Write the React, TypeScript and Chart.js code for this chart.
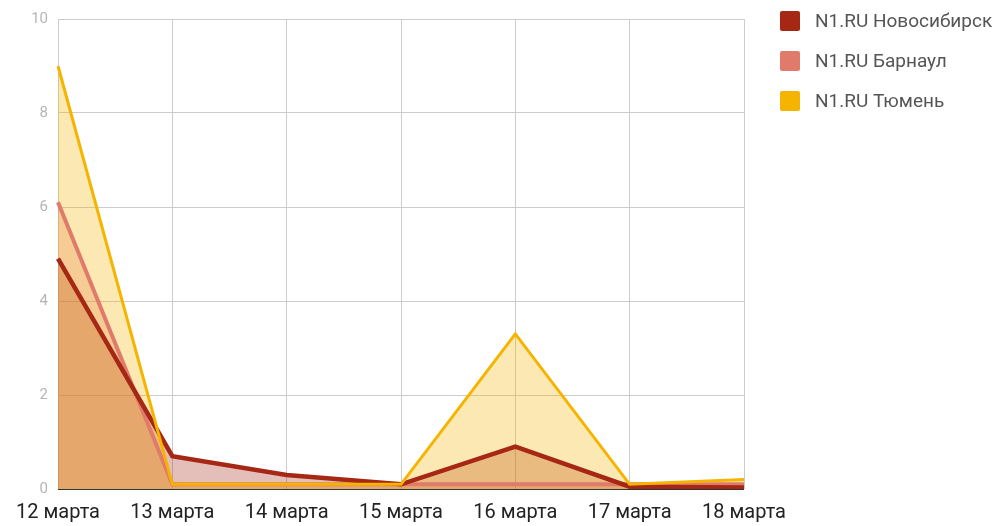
import React, { useEffect, useRef } from "react";
import { Chart, registerables } from "chart.js";

Chart.register(...registerables);

const categories = ["12 марта", "13 марта", "14 марта", "15 марта", "16 марта", "17 марта", "18 марта"];
const seriesNames = ["N1.RU Новосибирск", "N1.RU Барнаул", "N1.RU Тюмень"];
const novosibirsk = [4.9, 0.7, 0.3, 0.1, 0.9, 0.05, 0.03];
const barnaul = [6.1, 0.1, 0.1, 0.1, 0.1, 0.1, 0.1];
const tyumen = [9.0, 0.1, 0.1, 0.1, 3.3, 0.1, 0.2];
const colors = ["#a52714", "#e07b6c", "#f4b400"];
const fills = ["rgba(165,39,20,0.3)", "rgba(224,123,108,0.3)", "rgba(244,180,0,0.3)"];

const legendPlugin = {
  id: "sideLegend",
  afterDraw(chart: any) {
    const ctx = chart.ctx;
    const x0 = chart.chartArea.right + 36;
    ctx.save();
    seriesNames.forEach((name, i) => {
      const cy = 21 + i * 40;
      ctx.fillStyle = colors[i];
      ctx.beginPath();
      if (ctx.roundRect) ctx.roundRect(x0, cy - 10, 20, 20, 2);
      else ctx.rect(x0, cy - 10, 20, 20);
      ctx.fill();
      ctx.fillStyle = "#555";
      ctx.font = "19px Roboto";
      ctx.textBaseline = "middle";
      ctx.textAlign = "left";
      ctx.fillText(name, x0 + 35, cy + 1);
    });
    ctx.restore();
  },
};

export default function App() {
  const ref = useRef<HTMLCanvasElement>(null);
  useEffect(() => {
    const seriesData = [novosibirsk, barnaul, tyumen];
    const widths = [4.5, 4, 3];
    const orders = [1, 2, 0];
    const chart = new Chart(ref.current!, {
      type: "line",
      data: {
        labels: categories,
        datasets: seriesData.map((d, i) => ({
          label: seriesNames[i],
          data: d,
          borderColor: colors[i],
          backgroundColor: fills[i],
          borderWidth: widths[i],
          fill: "origin",
          pointRadius: 0,
          tension: 0,
          order: orders[i],
          borderJoinStyle: "miter" as const,
        })),
      },
      options: {
        animation: false,
        responsive: false,
        layout: { padding: { top: 19, right: 255, left: 0, bottom: 0 } },
        plugins: {
          legend: { display: false },
          tooltip: { enabled: false },
          filler: { drawTime: "beforeDatasetsDraw" },
        } as any,
        scales: {
          x: {
            offset: false,
            grid: { color: "#cccccc", drawTicks: false, lineWidth: 1 },
            border: { display: false },
            ticks: { color: "#222", font: { family: "Roboto", size: 20 }, padding: 12, maxRotation: 0, autoSkip: false },
            afterFit: (s: any) => { s.height = 37; },
          },
          y: {
            min: 0,
            max: 10,
            grid: {
              color: (c: any) => (c.tick && c.tick.value === 0 ? "#333333" : "#cccccc"),
              drawTicks: false,
            },
            border: { display: false },
            ticks: { stepSize: 2, color: "#b5b5b5", font: { family: "Roboto", size: 15 }, padding: 10 },
            afterFit: (s: any) => { s.width = 58; },
          },
        },
      },
      plugins: [legendPlugin],
    });
    return () => chart.destroy();
  }, []);
  return (
    <div style={{ position: "fixed", left: 0, top: 0, width: 999, height: 526, background: "#fff" }}>
      <canvas ref={ref} width={999} height={526} style={{ width: 999, height: 526 }} />
    </div>
  );
}
